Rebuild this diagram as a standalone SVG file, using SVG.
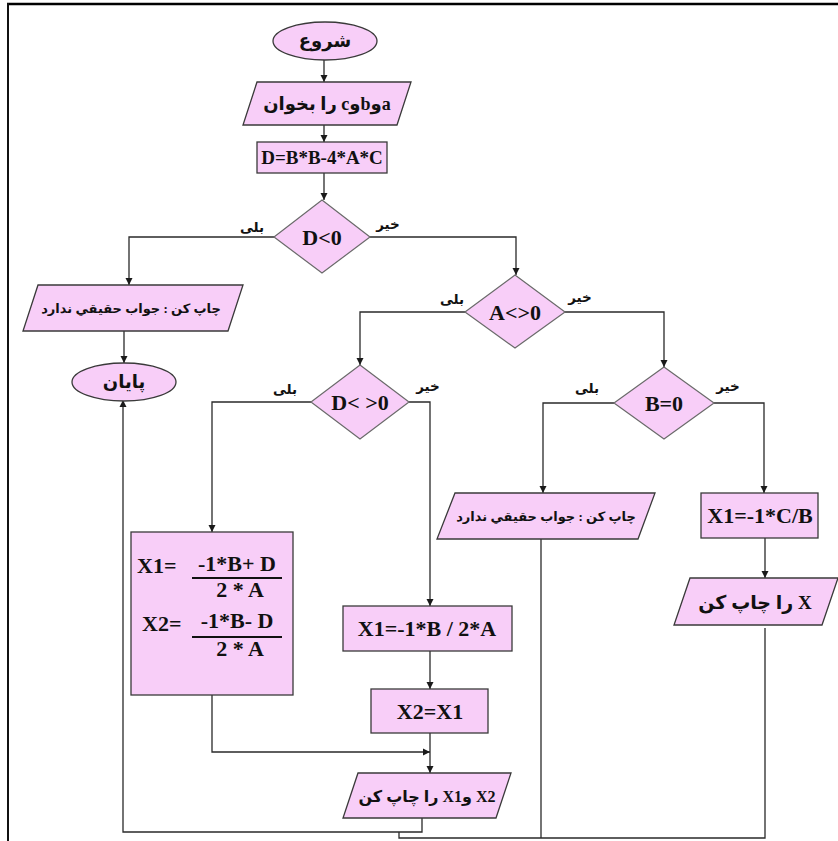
<svg xmlns="http://www.w3.org/2000/svg" width="838" height="841" viewBox="0 0 838 841">
  <style>
    .shape { fill: #F8CEF8; stroke: #3a3a3a; stroke-width: 1.3; }
    .dia { fill: #F8CEF8; stroke: #6a6a6a; stroke-width: 1.2; }
    .conn { fill: none; stroke: #2a2a2a; stroke-width: 1.3; }
    .lat { font-family: "Liberation Serif", "Times New Roman", serif; font-weight: bold; fill: #111; text-anchor: middle; }
    .lat-l { font-family: "Liberation Serif", "Times New Roman", serif; font-weight: bold; fill: #111; text-anchor: start; }
    .ar { font-family: "Liberation Serif", "DejaVu Sans", sans-serif; font-weight: bold; fill: #111; text-anchor: middle; direction: rtl; }
    .lbl { font-family: "DejaVu Sans", sans-serif; font-weight: bold; fill: #111; text-anchor: middle; font-size: 13.5px; direction: rtl; }
  </style>
  <defs>
    <marker id="arr" markerWidth="8" markerHeight="8" refX="7" refY="4" orient="auto" markerUnits="userSpaceOnUse">
      <path d="M0,0.5 L7,4 L0,7.5 Z" fill="#1a1a1a"/>
    </marker>
  </defs>
  <rect x="0" y="0" width="838" height="841" fill="#ffffff"/>

  <!-- page frame -->
  <g id="frame">
    <line x1="7" y1="4" x2="838" y2="4" stroke="#000" stroke-width="2.5"/>
    <line x1="8" y1="3" x2="8" y2="841" stroke="#111" stroke-width="2"/>
  </g>

  <!-- connectors -->
  <g id="connectors" class="conn">
    <path d="M324 60 V82" marker-end="url(#arr)"/>
    <path d="M324 125 V142" marker-end="url(#arr)"/>
    <path d="M324 173 V200" marker-end="url(#arr)"/>
    <path d="M274 237 H129 V285" marker-end="url(#arr)"/>
    <path d="M124 331 V363" marker-end="url(#arr)"/>
    <path d="M370 237 H516 V275" marker-end="url(#arr)"/>
    <path d="M465 312 H360 V365" marker-end="url(#arr)"/>
    <path d="M565 312 H664 V367" marker-end="url(#arr)"/>
    <path d="M311 402 H212 V532" marker-end="url(#arr)"/>
    <path d="M409 402 H430 V606" marker-end="url(#arr)"/>
    <path d="M430 651 V689" marker-end="url(#arr)"/>
    <path d="M430 733 V773" marker-end="url(#arr)"/>
    <path d="M212 695 V752 H430" marker-end="url(#arr)"/>
    <path d="M614 403 H543 V493" marker-end="url(#arr)"/>
    <path d="M714 403 H764 V493" marker-end="url(#arr)"/>
    <path d="M765 538 V578" marker-end="url(#arr)"/>
    <path d="M422 818 V832 H123 V400" marker-end="url(#arr)"/>
    <path d="M541 539 V838"/>
    <path d="M765 628 V838 H399 V832"/>
  </g>

  <g id="start">
    <ellipse class="shape" cx="325" cy="41" rx="52" ry="19"/>
    <text class="ar" x="325" y="47" font-size="18">شروع</text>
  </g>

  <g id="read-input">
    <polygon class="shape" points="257,82 411,82 397,125 243,125"/>
    <text class="ar" x="327" y="110" font-size="18">aوbوc را بخوان</text>
  </g>

  <g id="discriminant">
    <rect class="shape" x="257" y="142" width="130" height="31"/>
    <text class="lat" x="322" y="164" font-size="19">D=B*B-4*A*C</text>
  </g>

  <g id="check-d-neg">
    <polygon class="dia" points="322,200 370,237 322,273 274,237"/>
    <text class="lat" x="322" y="245" font-size="22">D&lt;0</text>
  </g>

  <g id="print-no-root-left">
    <polygon class="shape" points="38,285 243,285 228,331 23,331"/>
    <text class="ar" x="131" y="313" font-size="13">چاپ کن : جواب حقيقي ندارد</text>
  </g>

  <g id="end">
    <ellipse class="shape" cx="124" cy="382" rx="52" ry="19"/>
    <text class="ar" x="124" y="388" font-size="18">پایان</text>
  </g>

  <g id="check-a">
    <polygon class="dia" points="515,275 565,312 515,348 465,312"/>
    <text class="lat" x="515" y="320" font-size="22">A&lt;&gt;0</text>
  </g>

  <g id="check-d-nonzero">
    <polygon class="dia" points="360,365 409,402 360,439 311,402"/>
    <text class="lat" x="360" y="410" font-size="22">D&lt; &gt;0</text>
  </g>

  <g id="check-b">
    <polygon class="dia" points="664,367 714,403 664,439 614,403"/>
    <text class="lat" x="664" y="411" font-size="22">B=0</text>
  </g>

  <g id="two-roots">
    <rect class="shape" x="131" y="532" width="162" height="163"/>
    <text class="lat-l" x="137" y="573" font-size="22">X1=</text>
    <text class="lat" x="237" y="571" font-size="22">-1*B+ D</text>
    <line x1="192" y1="578" x2="282" y2="578" stroke="#111" stroke-width="2"/>
    <text class="lat" x="240" y="597" font-size="22">2 * A</text>
    <text class="lat-l" x="142" y="631" font-size="22">X2=</text>
    <text class="lat" x="237" y="628" font-size="22">-1*B- D</text>
    <line x1="192" y1="637" x2="282" y2="637" stroke="#111" stroke-width="2"/>
    <text class="lat" x="240" y="656" font-size="22">2 * A</text>
  </g>

  <g id="double-root">
    <rect class="shape" x="343" y="606" width="169" height="45"/>
    <text class="lat" x="427" y="636" font-size="22">X1=-1*B / 2*A</text>
  </g>

  <g id="copy-root">
    <rect class="shape" x="371" y="689" width="117" height="44"/>
    <text class="lat" x="430" y="719" font-size="22">X2=X1</text>
  </g>

  <g id="print-roots">
    <polygon class="shape" points="358,773 511,773 496,818 343,818"/>
    <text class="ar" x="427" y="802" font-size="16">X2 وX1 را چاپ کن</text>
  </g>

  <g id="print-no-root-right">
    <polygon class="shape" points="455,493 655,493 638,539 437,539"/>
    <text class="ar" x="546" y="521" font-size="13">چاپ کن : جواب حقيقي ندارد</text>
  </g>

  <g id="linear-root">
    <rect class="shape" x="701" y="493" width="117" height="45"/>
    <text class="lat" x="760" y="523" font-size="22">X1=-1*C/B</text>
  </g>

  <g id="print-x">
    <polygon class="shape" points="690,578 838,578 822,625 674,625"/>
    <text class="ar" x="755" y="609" font-size="19">X را چاپ کن</text>
  </g>

  <!-- branch labels -->
  <g id="labels">
    <text class="lbl" x="252" y="232">بلی</text>
    <text class="lbl" x="388" y="229">خیر</text>
    <text class="lbl" x="452" y="304">بلی</text>
    <text class="lbl" x="580" y="302">خیر</text>
    <text class="lbl" x="285" y="394">بلی</text>
    <text class="lbl" x="428" y="391">خیر</text>
    <text class="lbl" x="587" y="393">بلی</text>
    <text class="lbl" x="728" y="391">خیر</text>
  </g>
</svg>
